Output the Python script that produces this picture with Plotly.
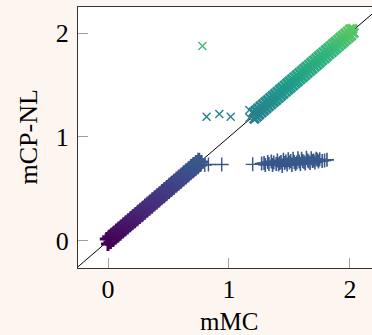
import plotly.graph_objects as go

# Diagonal reference line y = x
diag = [-0.3, 2.3]

# Lower band (+ markers)
lower_x = [-0.01, 0.00, 0.01, 0.02, 0.03, 0.04, 0.05, 0.06, 0.07, 0.08, 0.09, 0.10, 0.11, 0.12,
           0.13, 0.14, 0.15, 0.16, 0.17, 0.18, 0.19, 0.20, 0.21, 0.22, 0.23, 0.24, 0.25, 0.26,
           0.27, 0.28, 0.29, 0.30, 0.31, 0.32, 0.33, 0.34, 0.35, 0.36, 0.37, 0.38, 0.39, 0.40,
           0.41, 0.42, 0.43, 0.44, 0.45, 0.46, 0.47, 0.48, 0.49, 0.50, 0.51, 0.52, 0.53, 0.54,
           0.55, 0.56, 0.57, 0.58, 0.59, 0.60, 0.61, 0.62, 0.63, 0.64, 0.65, 0.66, 0.67, 0.68,
           0.69, 0.70, 0.71, 0.72, 0.73, 0.74, 0.75, 0.76, 0.77]
lower_y = [0.02, -0.03, 0.04, -0.01, 0.06, 0.01, 0.08, 0.03, 0.10, 0.05, 0.12, 0.07, 0.14, 0.09,
           0.16, 0.11, 0.18, 0.13, 0.20, 0.15, 0.22, 0.17, 0.24, 0.19, 0.26, 0.21, 0.28, 0.23,
           0.30, 0.25, 0.32, 0.27, 0.34, 0.29, 0.36, 0.31, 0.38, 0.33, 0.40, 0.35, 0.42, 0.37,
           0.44, 0.39, 0.46, 0.41, 0.48, 0.43, 0.50, 0.45, 0.52, 0.47, 0.54, 0.49, 0.56, 0.51,
           0.58, 0.53, 0.60, 0.55, 0.62, 0.57, 0.64, 0.59, 0.66, 0.61, 0.68, 0.63, 0.70, 0.65,
           0.72, 0.67, 0.74, 0.69, 0.76, 0.71, 0.78, 0.73, 0.76]

# Isolated + markers right of the lower band
lower_out_x = [0.80, 0.83, 0.94, 1.196]
lower_out_y = [0.73, 0.735, 0.735, 0.737]

# Cluster of + markers to the right
cluster_x = [1.27, 1.29, 1.30, 1.32, 1.33, 1.35, 1.36, 1.37, 1.39, 1.40, 1.41, 1.43, 1.44, 1.45,
             1.46, 1.48, 1.49, 1.50, 1.52, 1.53, 1.54, 1.55, 1.57, 1.58, 1.59, 1.60, 1.62, 1.63,
             1.64, 1.65, 1.67, 1.68, 1.69, 1.71, 1.72, 1.74, 1.75, 1.77, 1.79, 1.81,
             1.42, 1.47, 1.51, 1.56, 1.61, 1.66, 1.70, 1.73]
cluster_y = [0.745, 0.75, 0.73, 0.76, 0.74, 0.765, 0.73, 0.755, 0.74, 0.775, 0.735, 0.76, 0.72,
             0.78, 0.75, 0.735, 0.785, 0.755, 0.73, 0.79, 0.76, 0.74, 0.795, 0.765, 0.74, 0.79,
             0.76, 0.745, 0.80, 0.775, 0.75, 0.795, 0.77, 0.755, 0.79, 0.765, 0.785, 0.77,
             0.775, 0.78,
             0.75, 0.765, 0.77, 0.755, 0.77, 0.765, 0.775, 0.78]

# Upper band (x markers)
upper_x = [1.20, 1.21, 1.22, 1.23, 1.24, 1.25, 1.26, 1.27, 1.28, 1.29, 1.30, 1.31, 1.32, 1.33,
           1.34, 1.35, 1.36, 1.37, 1.38, 1.39, 1.40, 1.41, 1.42, 1.43, 1.44, 1.45, 1.46, 1.47,
           1.48, 1.49, 1.50, 1.51, 1.52, 1.53, 1.54, 1.55, 1.56, 1.57, 1.58, 1.59, 1.60, 1.61,
           1.62, 1.63, 1.64, 1.65, 1.66, 1.67, 1.68, 1.69, 1.70, 1.71, 1.72, 1.73, 1.74, 1.75,
           1.76, 1.77, 1.78, 1.79, 1.80, 1.81, 1.82, 1.83, 1.84, 1.85, 1.86, 1.87, 1.88, 1.89,
           1.90, 1.91, 1.92, 1.93, 1.94, 1.95, 1.96, 1.97, 1.98, 1.99, 2.00, 2.01, 2.02, 2.03]
upper_y = [1.235, 1.175, 1.255, 1.195, 1.275, 1.215, 1.295, 1.235, 1.315, 1.255, 1.335, 1.275,
           1.355, 1.295, 1.375, 1.315, 1.395, 1.335, 1.415, 1.355, 1.435, 1.375, 1.455, 1.395,
           1.475, 1.415, 1.495, 1.435, 1.515, 1.455, 1.535, 1.475, 1.555, 1.495, 1.575, 1.515,
           1.595, 1.535, 1.615, 1.555, 1.635, 1.575, 1.655, 1.595, 1.675, 1.615, 1.695, 1.635,
           1.715, 1.655, 1.735, 1.675, 1.755, 1.695, 1.775, 1.715, 1.795, 1.735, 1.815, 1.755,
           1.835, 1.775, 1.855, 1.795, 1.875, 1.815, 1.895, 1.835, 1.915, 1.855, 1.935, 1.875,
           1.955, 1.895, 1.975, 1.915, 1.995, 1.935, 2.015, 1.955, 2.035, 1.975, 2.04, 2.00]

# Upper outliers (x markers)
upper_out_x = [0.78, 0.815, 0.92, 1.014, 1.168, 1.17]
upper_out_y = [1.875, 1.195, 1.22, 1.195, 1.26, 1.185]

x_ticks = [0, 1, 2]
y_ticks = [0, 1, 2]
x_label = "mMC"
y_label = "mCP-NL"

FONT = "Liberation Serif"
CMIN, CMAX = 0, 2.75


def marks(xs, ys, symbol, size, width):
    return go.Scatter(
        x=xs, y=ys, mode="markers", hoverinfo="skip",
        marker=dict(symbol=symbol, size=size, color=ys,
                    colorscale="Viridis", cmin=CMIN, cmax=CMAX,
                    line=dict(width=width)))


fig = go.Figure()
fig.add_trace(go.Scatter(x=diag, y=diag, mode="lines",
                         line=dict(color="black", width=1), hoverinfo="skip"))
fig.add_trace(marks(lower_x, lower_y, "cross-thin-open", 10, 3))
fig.add_trace(marks(lower_out_x, lower_out_y, "cross-thin-open", 10, 1.4))
fig.add_trace(marks(cluster_x, cluster_y, "cross-thin-open", 10, 1.6))
fig.add_trace(marks(upper_x, upper_y, "x-thin-open", 9, 3))
fig.add_trace(marks(upper_out_x, upper_out_y, "x-thin-open", 8, 1.4))

axis_common = dict(showgrid=False, zeroline=False, showline=True,
                   linecolor="#333333", linewidth=1.2,
                   ticks="inside", ticklen=10, tickcolor="#a0a0a0", tickwidth=1,
                   tickfont=dict(family=FONT, size=26, color="black"))

fig.update_layout(
    width=372, height=335,
    margin=dict(l=78, r=0, t=7, b=67),
    paper_bgcolor="#fdf6f0", plot_bgcolor="white",
    showlegend=False,
    xaxis=dict(range=[-0.248, 2.182], tickvals=x_ticks, mirror=True,
               ticklabelstandoff=-2, **axis_common),
    yaxis=dict(range=[-0.26, 2.25], tickvals=y_ticks, mirror=False,
               ticklabelstandoff=3, **axis_common),
    annotations=[
        dict(text=x_label, xref="paper", yref="paper",
             x=(229 - 78) / (372 - 78), y=0, yshift=-53,
             xanchor="center", yanchor="middle", showarrow=False,
             font=dict(family=FONT, size=25, color="black")),
        dict(text=y_label, xref="paper", yref="paper",
             x=0, xshift=-50, y=0.5, textangle=-90,
             xanchor="center", yanchor="middle", showarrow=False,
             font=dict(family=FONT, size=26, color="black")),
    ],
)

fig.write_html("out.html", config={"displayModeBar": False},
               post_script="document.body.style.margin='0px';document.body.style.overflow='hidden';")
